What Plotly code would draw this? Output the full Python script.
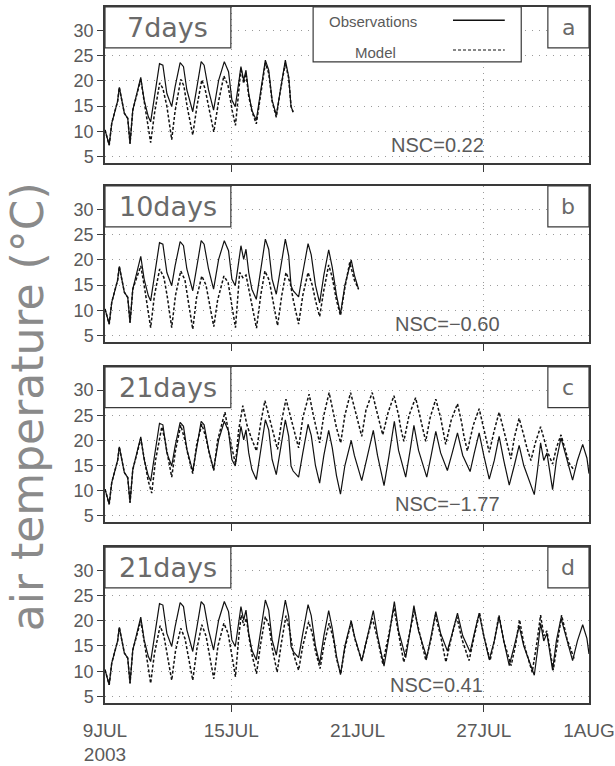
import plotly.graph_objects as go
import pandas as pd

# ---------------- data (days since 9 JUL 2003 00:00, air temperature in °C) ----------------
obs_day = [0.00, 0.08, 0.20, 0.32, 0.48, 0.60, 0.68, 0.79, 0.92, 1.08, 1.19, 1.32,
           1.51, 1.70, 1.86, 2.06, 2.17, 2.35, 2.50, 2.59, 2.75, 2.94, 3.17, 3.33,
           3.57, 3.73, 3.89, 4.17, 4.37, 4.57, 4.71, 4.92, 5.16, 5.40, 5.67, 5.87,
           6.03, 6.19, 6.35, 6.46, 6.59, 6.70, 6.83, 6.98, 7.19, 7.38, 7.62, 7.78,
           7.94, 8.14, 8.33, 8.57, 8.73, 8.84, 8.94, 9.20, 9.40, 9.65, 9.80, 10.00,
           10.20, 10.40, 10.63, 10.80, 11.00, 11.19, 11.40, 11.70, 11.85, 12.05, 12.20, 12.45,
           12.75, 12.95, 13.26, 13.50, 13.75, 13.95, 14.29, 14.50, 14.68, 14.90, 15.29, 15.50,
           15.72, 15.95, 16.27, 16.50, 16.75, 17.00, 17.35, 17.55, 17.78, 18.00, 18.26, 18.50,
           18.73, 18.95, 19.21, 19.45, 19.68, 19.90, 20.10, 20.40, 20.55, 20.70, 20.85, 21.00,
           21.27, 21.45, 21.67, 21.90, 22.22, 22.45, 22.70, 22.90, 23.00]
obs_temp = [10.3, 9.0, 7.3, 11.6, 14.2, 16.0, 18.7, 16.2, 13.6, 12.6, 7.6, 14.2,
            17.5, 20.7, 16.2, 12.9, 11.9, 16.8, 21.5, 23.4, 23.1, 17.5, 14.9, 18.8,
            23.6, 22.8, 18.2, 13.9, 18.8, 23.8, 23.1, 18.2, 14.2, 20.1, 23.8, 21.8,
            16.2, 14.9, 19.5, 22.8, 20.1, 22.1, 17.5, 14.2, 12.2, 17.5, 24.1, 22.1,
            16.2, 13.2, 18.2, 24.1, 20.8, 14.9, 13.9, 12.7, 17.5, 23.2, 21.0, 15.0,
            11.5, 17.0, 22.0, 18.5, 13.0, 9.3, 15.0, 20.0, 17.0, 14.2, 12.0, 16.5,
            22.0, 17.0, 11.0, 17.0, 23.8, 18.0, 12.7, 18.0, 23.0, 18.0, 12.7, 17.0,
            21.8, 17.5, 14.0, 17.5, 21.5, 17.0, 13.8, 17.5, 21.5, 17.0, 12.3, 16.0,
            20.8, 16.0, 11.1, 15.0, 19.0, 15.0, 12.5, 9.2, 14.0, 19.5, 16.0, 17.5,
            10.2, 16.0, 20.5, 17.0, 12.1, 16.0, 19.2, 16.5, 13.4]

# model runs share the observed spin-up up to this day
spinup_end = 1.32

mod_a_day = [1.51, 1.70, 1.86, 2.06, 2.17, 2.35, 2.60, 2.75, 2.94, 3.17, 3.33, 3.60,
             3.75, 3.90, 4.17, 4.37, 4.60, 4.75, 4.95, 5.17, 5.40, 5.65, 5.85, 6.05,
             6.20, 6.35, 6.46, 6.59, 6.70, 6.83, 6.98, 7.19, 7.38, 7.62, 7.78, 7.94,
             8.14, 8.33, 8.57, 8.73, 8.84, 8.94]
mod_a_temp = [17.5, 20.3, 16.0, 11.0, 7.8, 13.5, 19.6, 18.5, 15.0, 8.4, 14.0, 20.3,
              19.0, 15.0, 9.3, 15.0, 20.2, 18.5, 14.5, 9.9, 16.0, 21.0, 19.0, 14.0,
              11.2, 18.5, 22.5, 19.5, 21.5, 17.0, 14.0, 11.5, 17.0, 23.5, 21.5, 16.0,
              12.8, 18.0, 23.5, 20.5, 15.0, 13.8]

mod_b_day = [1.51, 1.70, 1.86, 2.06, 2.17, 2.35, 2.60, 2.80, 2.95, 3.17, 3.35, 3.60,
             3.80, 3.95, 4.17, 4.35, 4.60, 4.80, 4.95, 5.17, 5.35, 5.65, 5.85, 6.00,
             6.20, 6.40, 6.55, 6.70, 6.90, 7.20, 7.40, 7.60, 7.80, 7.95, 8.20, 8.40,
             8.60, 8.80, 8.95, 9.20, 9.40, 9.65, 9.85, 10.00, 10.20, 10.40, 10.63, 10.80,
             11.00, 11.19, 11.40, 11.63, 11.85, 12.05]
mod_b_temp = [16.5, 18.8, 15.0, 10.0, 6.6, 13.0, 18.2, 16.5, 13.0, 6.6, 13.0, 17.8,
              16.0, 12.0, 6.3, 12.5, 16.8, 15.0, 11.5, 6.8, 12.0, 16.8, 15.5, 11.5,
              6.6, 17.5, 16.5, 17.0, 13.0, 6.5, 13.0, 17.8, 16.0, 12.5, 7.0, 13.0,
              17.5, 15.5, 12.0, 7.3, 13.0, 17.5, 15.0, 12.0, 8.8, 14.0, 19.0, 16.5,
              12.0, 9.0, 14.5, 19.5, 16.0, 14.2]

mod_c_day = [1.51, 1.70, 1.90, 2.05, 2.22, 2.40, 2.70, 2.85, 3.00, 3.17, 3.35, 3.60,
             3.80, 3.95, 4.17, 4.35, 4.60, 4.80, 4.95, 5.17, 5.35, 5.70, 5.90, 6.05,
             6.20, 6.35, 6.55, 6.75, 6.95, 7.20, 7.40, 7.60, 7.80, 8.00, 8.20, 8.40,
             8.60, 8.80, 9.00, 9.20, 9.40, 9.70, 9.90, 10.05, 10.20, 10.40, 10.65, 10.85,
             11.00, 11.20, 11.40, 11.67, 11.90, 12.05, 12.20, 12.40, 12.70, 12.90, 13.05, 13.20,
             13.45, 13.73, 13.95, 14.05, 14.20, 14.45, 14.76, 14.95, 15.10, 15.24, 15.45, 15.72,
             15.95, 16.05, 16.19, 16.45, 16.75, 16.95, 17.05, 17.22, 17.50, 17.78, 18.00, 18.10,
             18.26, 18.50, 18.73, 18.95, 19.10, 19.29, 19.45, 19.68, 19.90, 20.05, 20.24, 20.45,
             20.70, 20.90, 21.05, 21.27, 21.45, 21.67, 21.90, 22.05, 22.30]
mod_c_temp = [17.5, 20.3, 15.5, 12.0, 9.5, 16.0, 22.7, 20.0, 16.5, 12.7, 18.0, 23.0,
              20.0, 17.0, 13.4, 19.0, 23.2, 20.5, 17.5, 14.0, 20.0, 25.6, 21.0, 18.0,
              15.3, 22.0, 26.9, 23.0, 20.5, 17.9, 23.5, 27.9, 24.5, 21.0, 18.2, 24.0,
              28.2, 25.0, 21.5, 18.5, 24.5, 29.2, 25.0, 22.0, 19.5, 25.0, 29.5, 25.5,
              22.5, 19.5, 25.0, 29.5, 25.5, 23.0, 20.8, 26.0, 29.5, 26.0, 23.5, 21.1,
              25.5, 28.9, 25.0, 22.5, 19.8, 25.0, 28.5, 25.0, 22.0, 19.8, 24.5, 28.2,
              24.5, 22.0, 19.2, 24.0, 27.3, 23.5, 21.0, 17.9, 23.0, 26.3, 22.5, 20.5,
              17.6, 22.0, 25.6, 22.0, 19.5, 16.3, 20.5, 24.4, 21.0, 18.5, 16.0, 19.5,
              22.7, 19.5, 17.5, 15.3, 18.5, 21.1, 17.5, 15.5, 14.0]

mod_d_day = [1.51, 1.70, 1.88, 2.05, 2.17, 2.35, 2.62, 2.80, 2.95, 3.17, 3.35, 3.60,
             3.80, 3.95, 4.17, 4.37, 4.60, 4.80, 4.95, 5.17, 5.37, 5.65, 5.85, 6.00,
             6.20, 6.35, 6.47, 6.60, 6.72, 6.85, 7.00, 7.20, 7.40, 7.62, 7.80, 7.95,
             8.18, 8.38, 8.60, 8.78, 8.95, 9.20, 9.40, 9.68, 9.85, 10.00, 10.22, 10.42,
             10.65, 10.85, 11.00, 11.20, 11.40, 11.70, 11.90, 12.20, 12.45, 12.70, 12.95, 13.20,
             13.45, 13.73, 13.95, 14.20, 14.45, 14.70, 14.95, 15.25, 15.50, 15.70, 15.95, 16.20,
             16.45, 16.72, 16.95, 17.30, 17.55, 17.80, 18.00, 18.30, 18.50, 18.72, 18.95, 19.30,
             19.50, 19.70, 19.90, 20.10, 20.30, 20.50, 20.70, 20.85, 21.00, 21.30, 21.50, 21.70,
             21.95, 22.30]
mod_d_temp = [17.0, 20.0, 15.5, 11.0, 7.6, 13.5, 19.0, 17.0, 13.5, 8.2, 14.0, 18.5,
              16.5, 13.0, 8.2, 14.5, 19.2, 17.0, 13.5, 8.5, 15.0, 19.5, 17.5, 13.5,
              8.9, 16.5, 21.1, 19.0, 20.5, 16.5, 13.0, 9.5, 15.5, 20.8, 19.0, 14.5,
              9.8, 15.5, 21.0, 18.0, 13.5, 10.2, 15.0, 19.8, 17.5, 14.0, 10.5, 15.5,
              19.5, 16.5, 12.5, 9.5, 14.5, 19.8, 16.0, 12.1, 16.5, 20.5, 16.5, 11.5,
              16.5, 22.5, 17.5, 11.8, 17.0, 22.1, 17.5, 12.1, 16.5, 21.1, 17.0, 11.8,
              16.5, 20.8, 16.5, 12.1, 17.0, 21.5, 17.0, 12.1, 16.0, 21.1, 16.0, 11.1,
              15.0, 20.2, 15.5, 12.5, 9.8, 15.0, 21.1, 17.0, 18.0, 10.2, 16.0, 21.1,
              16.5, 12.4]

panel_names = ["7days", "10days", "21days", "21days"]
panel_letters = ["a", "b", "c", "d"]
nsc_labels = ["NSC=0.22", "NSC=\u22120.60", "NSC=\u22121.77", "NSC=0.41"]
obs_end_day = [8.94, 12.05, 23.0, 23.0]
y_tick_vals = [5, 10, 15, 20, 25, 30]
x_tick_vals = ["2003-07-09", "2003-07-15", "2003-07-21", "2003-07-27", "2003-08-01"]
x_tick_text = ["9JUL<br>2003", "15JUL", "21JUL", "27JUL", "1AUG"]
x_mark_vals = ["2003-07-15", "2003-07-27"]   # dates carrying tick marks + vertical grid

# ---------------- build figure ----------------
base = pd.Timestamp("2003-07-09")


def to_time(days):
    return [base + pd.Timedelta(days=d) for d in days]


spin_day = [d for d in obs_day if d <= spinup_end]
spin_temp = [t for d, t in zip(obs_day, obs_temp) if d <= spinup_end]
models = [(mod_a_day, mod_a_temp), (mod_b_day, mod_b_temp),
          (mod_c_day, mod_c_temp), (mod_d_day, mod_d_temp)]

domains = [[0.7754, 1.0], [0.5182, 0.7428], [0.2596, 0.4828], [0.0, 0.2241]]
y_range = [3.7, 34.6]

GRAY_TXT = "#5a5a5a"
AX = "#3a3a3a"
GRID = "#9a9a9a"
FONT = "Liberation Sans"

fig = go.Figure()
layout = dict(
    width=615, height=766,
    margin=dict(l=105, r=26, t=7, b=63, autoexpand=False),
    paper_bgcolor="white", plot_bgcolor="white",
    showlegend=False,
    font=dict(family=FONT, color=GRAY_TXT),
)

shapes = []
annotations = []

for i in range(4):
    n = i + 1
    xa = "x" if n == 1 else f"x{n}"
    ya = "y" if n == 1 else f"y{n}"
    end = obs_end_day[i]
    od = [d for d in obs_day if d <= end]
    ot = [t for d, t in zip(obs_day, obs_temp) if d <= end]
    md = spin_day + models[i][0]
    mt = spin_temp + models[i][1]

    fig.add_trace(go.Scatter(x=to_time(od), y=ot, mode="lines", name="Observations",
                             line=dict(color="#111111", width=1.2), xaxis=xa, yaxis=ya))
    fig.add_trace(go.Scatter(x=to_time(md), y=mt, mode="lines", name="Model",
                             line=dict(color="#111111", width=1.5, dash="3px,2px"),
                             xaxis=xa, yaxis=ya))

    layout[f"xaxis{n if n > 1 else ''}"] = dict(
        domain=[0, 1], anchor=ya, type="date", automargin=False,
        range=["2003-07-09", "2003-08-01"],
        tickmode="array", tickvals=x_tick_vals, ticktext=x_tick_text,
        showticklabels=(n == 4),
        ticks="",
        showline=True, mirror=True, linecolor=AX, linewidth=1.5,
        showgrid=False,
        minor=dict(tickmode="array", tickvals=x_mark_vals, ticks="outside", ticklen=7,
                   tickcolor=AX, tickwidth=1, showgrid=True, gridcolor=GRID,
                   griddash="1px,5px", gridwidth=1),
        tickfont=dict(family=FONT, size=19, color=GRAY_TXT),
        ticklabelstandoff=9,
        zeroline=False,
    )
    layout[f"yaxis{n if n > 1 else ''}"] = dict(
        domain=domains[i], anchor=xa, range=y_range, automargin=False,
        tickmode="array", tickvals=y_tick_vals,
        ticks="outside", ticklen=6, tickcolor=AX, tickwidth=1,
        showline=True, mirror=True, linecolor=AX, linewidth=1.5,
        showgrid=True, gridcolor=GRID, griddash="1px,6px", gridwidth=1,
        tickfont=dict(family=FONT, size=18, color=GRAY_TXT),
        zeroline=False,
    )

    xd = f"{xa} domain"
    yd = f"{ya} domain"
    # run-length label box
    shapes.append(dict(type="rect", xref=xd, yref=yd, x0=0, x1=0.26, y0=0.738, y1=1,
                       line=dict(color=AX, width=1.2), fillcolor="white", layer="above"))
    annotations.append(dict(xref=xd, yref=yd, x=0.13, y=0.87, text=panel_names[i],
                            showarrow=False, xanchor="center", yanchor="middle",
                            font=dict(family="DejaVu Sans", size=27, color="#6a6a6a")))
    # panel letter box
    shapes.append(dict(type="rect", xref=xd, yref=yd, x0=0.915, x1=1, y0=0.738, y1=1,
                       line=dict(color=AX, width=1.2), fillcolor="white", layer="above"))
    annotations.append(dict(xref=xd, yref=yd, x=0.9575, y=0.87, text=panel_letters[i],
                            showarrow=False, xanchor="center", yanchor="middle",
                            font=dict(family="DejaVu Sans", size=22, color="#6a6a6a")))
    # NSC score
    nsc_x = [0.688, 0.707, 0.707, 0.685][i]
    annotations.append(dict(xref=xd, yref=yd, x=nsc_x, y=0.115, text=nsc_labels[i],
                            showarrow=False, xanchor="center", yanchor="middle",
                            font=dict(family=FONT, size=20, color=GRAY_TXT)))

# legend box in panel a (text first, sample line after)
shapes.append(dict(type="rect", xref="x domain", yref="y domain", x0=0.43, x1=0.86,
                   y0=0.649, y1=1, line=dict(color=AX, width=1.2), fillcolor="white",
                   layer="above"))
shapes.append(dict(type="line", xref="x domain", yref="y domain", x0=0.719, x1=0.826,
                   y0=0.915, y1=0.915, line=dict(color="#111111", width=1.4), layer="above"))
shapes.append(dict(type="line", xref="x domain", yref="y domain", x0=0.719, x1=0.826,
                   y0=0.725, y1=0.725, line=dict(color="#111111", width=1.2, dash="3px,2px"),
                   layer="above"))
annotations.append(dict(xref="x domain", yref="y domain", x=0.554, y=0.905,
                        text="Observations", showarrow=False, xanchor="center",
                        yanchor="middle", font=dict(family=FONT, size=15, color=GRAY_TXT)))
annotations.append(dict(xref="x domain", yref="y domain", x=0.558, y=0.712,
                        text="Model", showarrow=False, xanchor="center",
                        yanchor="middle", font=dict(family=FONT, size=15, color=GRAY_TXT)))

# y-axis title
annotations.append(dict(xref="paper", yref="paper", x=-0.161, y=0.425,
                        text="air temperature (\u00b0C)",
                        textangle=-90, showarrow=False, xanchor="center", yanchor="middle",
                        font=dict(family="DejaVu Sans", size=44, color="#8a8a8a")))

layout["shapes"] = shapes
layout["annotations"] = annotations
fig.update_layout(**layout)

fig.write_html("out.html")
